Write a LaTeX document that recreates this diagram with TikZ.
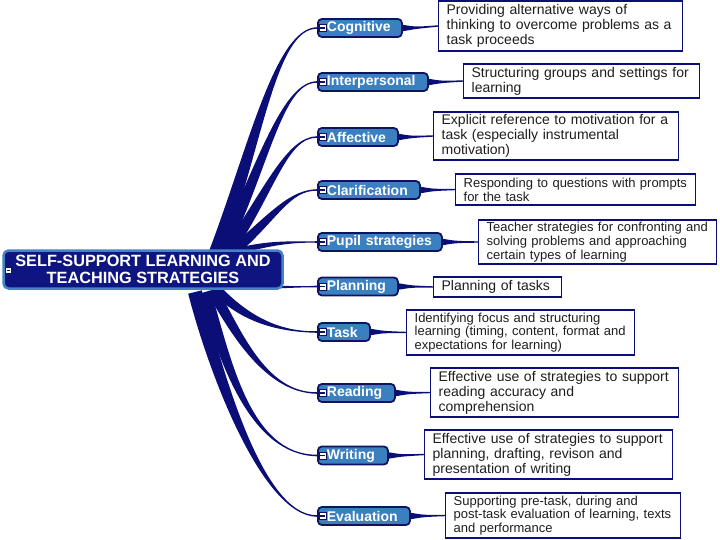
\documentclass[tikz,border=0pt]{standalone}
\usepackage{fontspec}
\setmainfont{Liberation Sans}
\usetikzlibrary{calc}
\definecolor{navy}{RGB}{12,14,120}
\definecolor{cfill}{RGB}{14,20,128}
\definecolor{cborder}{RGB}{70,130,200}
\definecolor{bfill}{RGB}{58,128,192}
\definecolor{bborder}{RGB}{16,20,96}
\definecolor{tcol}{RGB}{30,30,30}
\pgfdeclarelayer{bg}
\pgfsetlayers{bg,main}
\newcommand\branchtaper[6]{\fill[navy] ($(#1)+(#5)$) .. controls ($(#2)+(#5)$) and (#3) .. ($(#4)+(0,#6)$) -- ($(#4)-(0,#6)$) .. controls (#3) and ($(#2)-(#5)$) .. ($(#1)-(#5)$) -- cycle;}
\newcommand\linkwedge[2]{\fill[navy] ($(#1.east)+(-4,-4)$) .. controls ($(#1.east)+(12,-1)$) .. ($(#2.west)+(0,-0.7)$) -- ($(#2.west)+(0,0.7)$) .. controls ($(#1.east)+(12,1)$) .. ($(#1.east)+(-4,4)$) -- cycle;}
\begin{document}
\begin{tikzpicture}[x=1pt,y=-1pt,
  central/.style={fill=cfill, draw=cborder, line width=2.5pt, rounded corners=5pt, text=white,
    font=\fontsize{16.3}{16.5}\selectfont\bfseries, align=center, minimum width=279pt, minimum height=38pt, inner sep=0pt},
  bnode/.style={fill=bfill, draw=bborder, line width=1.8pt, rounded corners=4pt, text=white,
    font=\fontsize{14}{14}\selectfont\bfseries, minimum height=18pt, inner xsep=0pt, inner ysep=0pt, anchor=west, align=left},
  minus/.style={draw=bborder, fill=white, line width=0.6pt, minimum size=7pt, inner sep=0pt,
    path picture={\draw[bborder, line width=1.2pt] ([xshift=1.3pt]path picture bounding box.west) -- ([xshift=-1.3pt]path picture bounding box.east);}},
  tbox/.style={draw=navy, line width=1.3pt, fill=white, text=tcol, anchor=west, align=left, inner xsep=8pt, inner ysep=1pt},
  big/.style={font=\fontsize{14}{15}\selectfont},
  small/.style={font=\fontsize{13}{13.8}\selectfont}
]
\useasboundingbox (0,0) rectangle (720,540);

% central node
\node[central] (root) at (143,269.5) {SELF-SUPPORT LEARNING AND\\TEACHING STRATEGIES};
\node[minus, minimum size=5.5pt] (m0) at (8.5,270.5) {};

% branch nodes
\node[bnode, text width=84pt]  (cog) at (317,28)  {\hspace*{9pt}Cognitive};
\node[bnode, text width=110pt] (ip)  at (317,82)  {\hspace*{9pt}Interpersonal};
\node[bnode, text width=80pt]  (af)  at (317,137) {\hspace*{9pt}Affective};
\node[bnode, text width=102pt] (cl)  at (317,190) {\hspace*{9pt}Clarification};
\node[bnode, text width=124pt] (ps)  at (317,242) {\hspace*{9pt}Pupil strategies};
\node[bnode, text width=80pt]  (pl)  at (317,286.5) {\hspace*{9pt}Planning};
\node[bnode, text width=52pt]  (tk)  at (317,332) {\hspace*{9pt}Task};
\node[bnode, text width=77pt]  (rd)  at (317,393) {\hspace*{9pt}Reading};
\node[bnode, text width=70pt]  (wr)  at (317,455.5) {\hspace*{9pt}Writing};
\node[bnode, text width=92pt]  (ev)  at (317,516) {\hspace*{9pt}Evaluation};

\foreach \n in {cog,ip,af,cl,ps,pl,tk,rd,wr,ev}
  \node[minus] (m-\n) at ($(\n.west)+(5.5,0)$) {};

% text boxes
\node[tbox, big, minimum width=244pt, minimum height=50pt, text width=228pt] (t1) at (438,26)
  {Providing alternative ways of\\thinking to overcome problems as a\\task proceeds};
\node[tbox, big, minimum width=236pt, minimum height=34pt, text width=220pt] (t2) at (463,81)
  {Structuring groups and settings for\\learning};
\node[tbox, big, minimum width=245pt, minimum height=48pt, text width=229pt] (t3) at (433,136)
  {Explicit reference to motivation for a\\task (especially instrumental\\motivation)};
\node[tbox, small, minimum width=240pt, minimum height=31pt, text width=224pt] (t4) at (455,189.5)
  {Responding to questions with prompts\\for the task};
\node[tbox, small, minimum width=238pt, minimum height=44pt, text width=222pt] (t5) at (478,242)
  {Teacher strategies for confronting and\\solving problems and approaching\\certain types of learning};
\node[tbox, big, minimum width=128pt, minimum height=20pt, text width=112pt] (t6) at (433,287)
  {Planning of tasks};
\node[tbox, small, minimum width=228pt, minimum height=45pt, text width=212pt] (t7) at (406,332.5)
  {Identifying focus and structuring\\learning (timing, content, format and\\expectations for learning)};
\node[tbox, big, minimum width=248pt, minimum height=49pt, text width=232pt] (t8) at (430,392.5)
  {Effective use of strategies to support\\reading accuracy and\\comprehension};
\node[tbox, big, minimum width=248pt, minimum height=49pt, text width=232pt] (t9) at (424,454.5)
  {Effective use of strategies to support\\planning, drafting, revison and\\presentation of writing};
\node[tbox, small, minimum width=235pt, minimum height=45pt, text width=219pt] (t10) at (445,515.5)
  {Supporting pre-task, during and\\post-task evaluation of learning, texts\\and performance};

\begin{pgfonlayer}{bg}
  % main tapered branches
  \branchtaper{215,255}{255,150}{275,28}{cog.west}{6.5,2.5}{0.8}
  \branchtaper{222,252}{265,160}{283,82}{ip.west}{5.4,2.5}{0.8}
  \branchtaper{228,252}{270,190}{287,137}{af.west}{4.5,3.1}{0.8}
  \branchtaper{233,252}{275,215}{290,190}{cl.west}{3.3,3.75}{0.8}
  \branchtaper{235,252}{270,242}{295,242}{ps.west}{0.8,2.9}{0.8}
  \branchtaper{265,287}{285,287}{300,287}{pl.west}{0,1.5}{0.9}
  \branchtaper{215,288}{245,320}{280,332}{tk.west}{-3.6,3.4}{0.8}
  \branchtaper{212,290}{235,330}{265,393}{rd.west}{-4.8,2.7}{0.8}
  \branchtaper{205,292}{225,360}{250,455}{wr.west}{-5.75,1.7}{0.8}
  \branchtaper{195,292}{215,370}{262,516}{ev.west}{-6.8,1.7}{0.8}
  % wedges to text boxes
  \linkwedge{cog}{t1}
  \linkwedge{ip}{t2}
  \linkwedge{af}{t3}
  \linkwedge{cl}{t4}
  \linkwedge{ps}{t5}
  \linkwedge{pl}{t6}
  \linkwedge{tk}{t7}
  \linkwedge{rd}{t8}
  \linkwedge{wr}{t9}
  \linkwedge{ev}{t10}
\end{pgfonlayer}
\end{tikzpicture}
\end{document}
